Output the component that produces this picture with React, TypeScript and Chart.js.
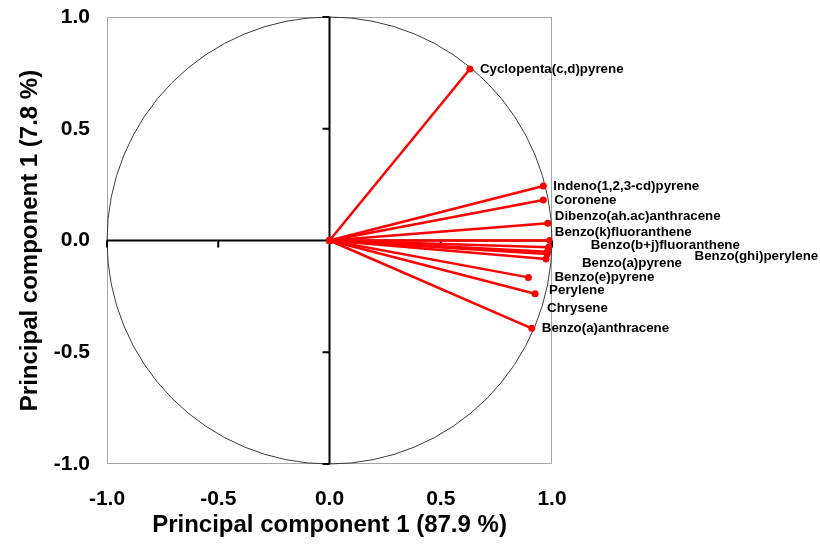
import React, { useEffect, useRef } from "react";
import { Chart, registerables } from "chart.js";

Chart.register(...registerables);

// ---- Data ----
const compounds = [
  "Cyclopenta(c,d)pyrene",
  "Indeno(1,2,3-cd)pyrene",
  "Coronene",
  "Dibenzo(ah.ac)anthracene",
  "Benzo(k)fluoranthene",
  "Benzo(b+j)fluoranthene",
  "Benzo(ghi)perylene",
  "Chrysene",
  "Benzo(a)pyrene",
  "Benzo(e)pyrene",
  "Perylene",
  "Benzo(a)anthracene",
];
const pc1Loadings = [0.631, 0.961, 0.961, 0.981, 0.99, 0.985, 0.98, 0.978, 0.973, 0.894, 0.924, 0.909];
const pc2Loadings = [0.767, 0.244, 0.181, 0.077, 0.0, -0.03, -0.05, -0.06, -0.083, -0.165, -0.238, -0.393];
const tickValues = [-1, -0.5, 0, 0.5, 1];
const xAxisTitle = "Principal component 1 (87.9 %)";
const yAxisTitle = "Principal component 1 (7.8 %)";

// ---- Layout / style (label offsets in pixels from each point) ----
const labelOffsets: [number, number][] = [
  [10, 0],
  [10, 0],
  [11, 0],
  [7, -7],
  [5, -8.5],
  [42, -2],
  [147, 5],
  [0, 54],
  [36, 4],
  [26, 0],
  [14, -3],
  [10, 0],
];

const FONT = "'Liberation Sans', Arial, sans-serif";
const RED = "#ff0000";

const decorPlugin = {
  id: "decor",
  beforeDatasetsDraw(chart: any) {
    const { ctx, chartArea: a, scales } = chart;
    const x = scales.x;
    const y = scales.y;
    const cx = x.getPixelForValue(0);
    const cy = y.getPixelForValue(0);
    const rx = x.getPixelForValue(1) - cx;
    const ry = cy - y.getPixelForValue(1);
    ctx.save();
    ctx.strokeStyle = "#a6a6a6";
    ctx.lineWidth = 1;
    ctx.strokeRect(a.left + 0.5, a.top + 0.5, a.right - a.left - 1, a.bottom - a.top - 1);
    ctx.beginPath();
    ctx.ellipse(cx, cy, rx, ry, 0, 0, Math.PI * 2);
    ctx.strokeStyle = "#3a3a3a";
    ctx.lineWidth = 1;
    ctx.stroke();
    ctx.beginPath();
    ctx.strokeStyle = "#000";
    ctx.lineWidth = 2;
    ctx.moveTo(a.left, cy);
    ctx.lineTo(a.right, cy);
    ctx.moveTo(cx, a.top);
    ctx.lineTo(cx, a.bottom);
    for (const v of tickValues) {
      const px = x.getPixelForValue(v);
      ctx.moveTo(px, cy);
      ctx.lineTo(px, cy + 7);
      const py = y.getPixelForValue(v);
      ctx.moveTo(cx, py);
      ctx.lineTo(cx - 7, py);
    }
    ctx.stroke();
    ctx.restore();
  },
  afterDatasetsDraw(chart: any) {
    const { ctx, scales } = chart;
    ctx.save();
    ctx.font = `bold 13.33px ${FONT}`;
    ctx.fillStyle = "#000";
    ctx.textAlign = "left";
    ctx.textBaseline = "middle";
    compounds.forEach((name, i) => {
      const px = scales.x.getPixelForValue(pc1Loadings[i]);
      const py = scales.y.getPixelForValue(pc2Loadings[i]);
      const [dx, dy] = labelOffsets[i];
      ctx.fillText(name, px + dx, py + dy);
    });
    ctx.restore();
  },
};

export default function App() {
  const canvasRef = useRef<HTMLCanvasElement | null>(null);

  useEffect(() => {
    if (!canvasRef.current) return;
    const datasets = compounds.map((name, i) => ({
      label: name,
      data: [
        { x: 0, y: 0 },
        { x: pc1Loadings[i], y: pc2Loadings[i] },
      ],
      showLine: true,
      borderColor: RED,
      borderWidth: 2.5,
      backgroundColor: RED,
      pointBackgroundColor: RED,
      pointBorderColor: RED,
      pointBorderWidth: 0,
      pointRadius: 3.5,
    }));

    const tickFont = { family: FONT, size: 21, weight: "bold" as const };
    const titleFont = { family: FONT, size: 24, weight: "bold" as const };

    const chart = new Chart(canvasRef.current, {
      type: "scatter",
      data: { datasets },
      plugins: [decorPlugin],
      options: {
        animation: false,
        responsive: false,
        layout: { padding: { top: 17, right: 268, left: 0, bottom: 0 } },
        plugins: { legend: { display: false }, tooltip: { enabled: false } },
        scales: {
          x: {
            type: "linear",
            min: -1,
            max: 1,
            afterFit: (s: any) => {
              s.height = 80;
              s.paddingLeft = 0;
              s.paddingRight = 0;
            },
            afterBuildTicks: (s: any) => {
              s.ticks = tickValues.map((v) => ({ value: v }));
            },
            grid: { display: false, drawTicks: false },
            border: { display: false },
            ticks: {
              padding: 23,
              color: "#000",
              font: tickFont,
              maxRotation: 0,
              callback: (v: any) => Number(v).toFixed(1),
            },
            title: { display: true, text: xAxisTitle, color: "#000", font: titleFont, padding: 4 },
          },
          y: {
            type: "linear",
            min: -1,
            max: 1,
            afterFit: (s: any) => {
              s.width = 107;
              s.paddingTop = 0;
              s.paddingBottom = 0;
            },
            afterBuildTicks: (s: any) => {
              s.ticks = tickValues.map((v) => ({ value: v }));
            },
            grid: { display: false, drawTicks: false },
            border: { display: false },
            ticks: {
              padding: 17,
              color: "#000",
              font: tickFont,
              callback: (v: any) => Number(v).toFixed(1),
            },
            title: { display: true, text: yAxisTitle, color: "#000", font: titleFont, padding: 16 },
          },
        },
      },
    });
    return () => chart.destroy();
  }, []);

  return (
    <div style={{ position: "fixed", left: 0, top: 0, width: 820, height: 544, background: "#fff" }}>
      <canvas ref={canvasRef} width={820} height={544} />
    </div>
  );
}
